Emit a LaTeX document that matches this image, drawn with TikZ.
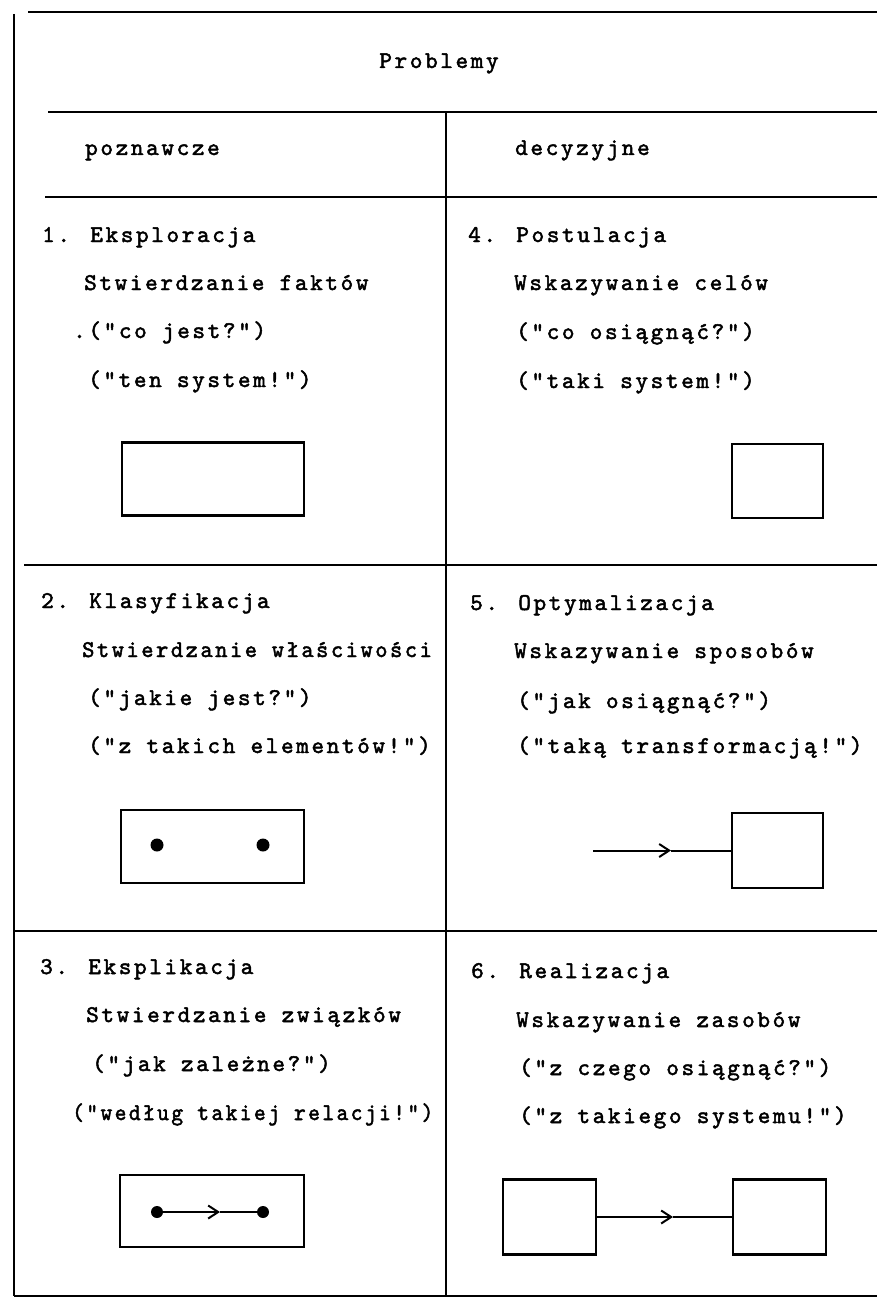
\documentclass[tikz,border=0pt]{standalone}
\usepackage{fontspec}
\newfontfamily\tw{lmmono10-regular.otf}[LetterSpace=11,FakeBold=2]
\newcommand\twf{\tw\fontsize{24}{28}\selectfont}
\usetikzlibrary{arrows.meta}
\begin{document}
\begin{tikzpicture}[x=1pt,y=-1pt,
  rule/.style={line width=2.4pt},
  tx/.style={anchor=base west, inner sep=0pt, font=\twf},
  sbox/.style={draw, line width=2.2pt, inner sep=0pt},
  blackdot/.style={circle, fill, inner sep=0pt, minimum size=13pt},
  arr/.style={-{Straight Barb[length=10pt,width=13pt]}, line width=2pt},
  plain/.style={line width=2pt}]
\useasboundingbox (0,0) rectangle (877,1300);
% table rules
\draw[rule] (14,14) -- (14,1296);
\draw[rule] (28,12) -- (877,12);
\draw[rule] (48,112) -- (877,112);
\draw[rule] (45,197) -- (877,197);
\draw[rule] (24,565) -- (877,565);
\draw[rule] (14,931) -- (877,931);
\draw[rule] (14,1296) -- (877,1296);
\draw[rule] (446,112) -- (446,1296);
% headers
\node[anchor=base, inner sep=0pt, font=\twf] (hprob) at (439,68) {Problemy};
\node[tx] (hpoz) at (85,155) {poznawcze};
\node[tx] (hdec) at (515,155) {decyzyjne};
% column 1
\node[tx] (t1a) at (42,242) {1. Eksploracja};
\node[tx] (t1b) at (84,290) {Stwierdzanie faktów};
\node[tx] (t1c) at (73,338) {.("co jest?")};
\node[tx] (t1d) at (88,387) {("ten system!")};
\node[tx] (t2a) at (41,608) {2. Klasyfikacja};
\node[tx] (t2b) at (82,657) {\scalebox{0.97}[1]{Stwierdzanie właściwości}};
\node[tx] (t2c) at (88,705) {("jakie jest?")};
\node[tx] (t2d) at (88,753) {("z takich elementów!")};
\node[tx] (t3a) at (40,974) {3. Eksplikacja};
\node[tx] (t3b) at (86,1022) {Stwierdzanie związków};
\node[tx] (t3c) at (92,1071) {("jak zależne?")};
\node[tx] (t3d) at (72,1120) {\scalebox{0.93}[1]{("według takiej relacji!")}};
% column 2
\node[tx] (t4a) at (468,242) {4. Postulacja};
\node[tx] (t4b) at (514,290) {Wskazywanie celów};
\node[tx] (t4c) at (516,339) {("co osiągnąć?")};
\node[tx] (t4d) at (516,388) {("taki system!")};
\node[tx] (t5a) at (470,610) {5. Optymalizacja};
\node[tx] (t5b) at (514,658) {Wskazywanie sposobów};
\node[tx] (t5c) at (517,708) {("jak osiągnąć?")};
\node[tx] (t5d) at (517,753) {("taką transformacją!")};
\node[tx] (t6a) at (471,978) {6. Realizacja};
\node[tx] (t6b) at (516,1027) {Wskazywanie zasobów};
\node[tx] (t6c) at (519,1075) {("z czego osiągnąć?")};
\node[tx] (t6d) at (519,1123) {("z takiego systemu!")};
% symbols
\node[sbox, minimum width=182pt, minimum height=73pt] (b1) at (213,479) {};
\node[sbox, minimum width=183pt, minimum height=73pt] (b2) at (212.5,846.5) {};
\node[blackdot] (d2a) at (157,845) {};
\node[blackdot] (d2b) at (263,845) {};
\node[sbox, minimum width=184pt, minimum height=72pt] (b3) at (212,1211) {};
\node[blackdot, minimum size=12pt] (d3a) at (157,1212) {};
\node[blackdot, minimum size=12pt] (d3b) at (263,1212) {};
\coordinate (m3) at (220,1212);
\draw[arr] (d3a.center) -- (m3);
\draw[plain] (m3) -- (d3b.center);
\node[sbox, minimum width=91pt, minimum height=74pt] (b4) at (777.5,481) {};
\node[sbox, minimum width=91pt, minimum height=75pt] (b5) at (777.5,850.5) {};
\coordinate (a5) at (593,850.5);
\coordinate (m5) at (671,850.5);
\draw[arr] (a5) -- (m5);
\draw[plain] (m5) -- (b5.west);
\node[sbox, minimum width=93pt, minimum height=75pt] (b6a) at (549.5,1217) {};
\node[sbox, minimum width=93pt, minimum height=75pt] (b6b) at (779.5,1217) {};
\coordinate (m6) at (673,1217);
\draw[arr] (b6a.east) -- (m6);
\draw[plain] (m6) -- (b6b.west);
\end{tikzpicture}
\end{document}
